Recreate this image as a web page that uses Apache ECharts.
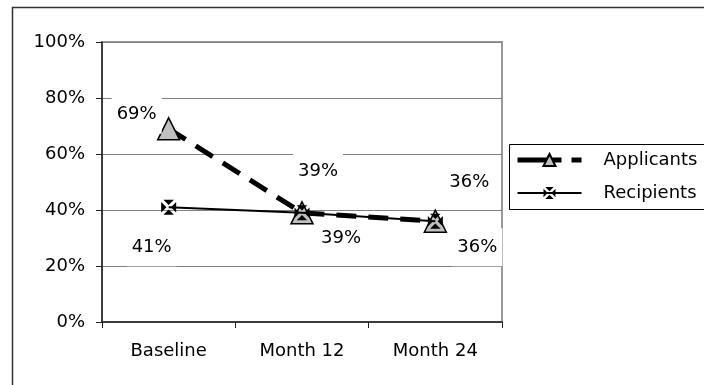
<!DOCTYPE html>
<html>
<head>
<meta charset="utf-8">
<script src="https://cdn.jsdelivr.net/npm/echarts@6/dist/echarts.min.js"></script>
<style>html,body{margin:0;padding:0;background:#fff}#c{width:704px;height:385px}</style>
</head>
<body>
<div id="c"></div>
<script>
var categories = ['Baseline', 'Month 12', 'Month 24'];
var applicants = [0.69, 0.39, 0.36];
var recipients = [0.41, 0.39, 0.36];

// label offsets (styling), relative to each point
var appLabelOffsets = [[-32, -14], [16, -41], [34, -39]];
var recLabelOffsets = [[-17, 40], [39, 26], [42, 26]];

var FONT = 'DejaVu Sans';
var xSquare = 'path://M3,0L17,0L10,7ZM3,20L17,20L10,13ZM0,3L0,17L7,10ZM20,3L20,17L13,10Z';

function pct(v) { return Math.round(v * 100) + '%'; }

var labelBase = {
  show: true, position: 'inside', color: '#000', fontFamily: FONT, fontSize: 18,
  backgroundColor: '#fff', padding: [10, 5],
  formatter: function (p) { return pct(p.value); }
};

var chart = echarts.init(document.getElementById('c'), null, { renderer: 'canvas' });
chart.setOption({
  animation: false,
  backgroundColor: '#fff',
  textStyle: { fontFamily: FONT },
  grid: { left: 102, top: 42, width: 400, height: 280, show: true, borderColor: '#999', borderWidth: 2, backgroundColor: 'transparent' },
  legend: {
    orient: 'vertical', left: 509, top: 144,
    padding: [7, 6, 7, 6], itemGap: 15, itemWidth: 64, itemHeight: 15,
    textStyle: { fontFamily: FONT, fontSize: 18, color: '#000', padding: [0, 0, 0, 17] },
    data: [
      { name: 'Applicants', lineStyle: { width: 5, type: [44, 10, 10, 10] } },
      { name: 'Recipients', lineStyle: { width: 2, type: 'solid' } }
    ]
  },
  xAxis: {
    type: 'category', data: categories, boundaryGap: true,
    axisLine: { lineStyle: { color: '#222', width: 1.5 } },
    axisTick: { show: true, length: 6, lineStyle: { color: '#222' } },
    axisLabel: { color: '#000', fontFamily: FONT, fontSize: 18, margin: 20 },
    splitLine: { show: false }
  },
  yAxis: {
    type: 'value', min: 0, max: 1, interval: 0.2,
    axisLine: { show: true, lineStyle: { color: '#222', width: 1.5 } },
    axisTick: { show: true, length: 6, lineStyle: { color: '#222' } },
    axisLabel: { color: '#000', fontFamily: FONT, fontSize: 18, margin: 17,
      formatter: function (v) { return pct(v); } },
    splitLine: { show: true, lineStyle: { color: '#808080', width: 1 } }
  },
  series: [
    {
      name: 'Applicants', type: 'line',
      data: applicants.map(function (v, i) { return { value: v, label: { offset: appLabelOffsets[i] } }; }),
      symbol: 'triangle', symbolSize: 22,
      lineStyle: { color: '#000', width: 5, type: [20, 12] },
      itemStyle: { color: '#c0c0c0', borderColor: '#000', borderWidth: 1.5 },
      label: labelBase,
      z: 2
    },
    {
      name: 'Recipients', type: 'line',
      data: recipients.map(function (v, i) { return { value: v, label: { offset: recLabelOffsets[i] } }; }),
      symbol: xSquare, symbolSize: 15,
      lineStyle: { color: '#000', width: 2 },
      itemStyle: { color: '#000', borderWidth: 0 },
      label: labelBase,
      z: 3
    }
  ],
  graphic: [
    {
      type: 'rect', left: 10, top: 5, silent: true, z: 100,
      shape: { width: 900, height: 500 },
      style: { fill: 'none', stroke: '#333', lineWidth: 1.5 }
    },
    {
      type: 'rect', left: 509, top: 144, silent: true, z: 0,
      shape: { width: 400, height: 65 },
      style: { fill: '#fff', stroke: '#000', lineWidth: 1 }
    }
  ]
});
</script>
</body>
</html>
